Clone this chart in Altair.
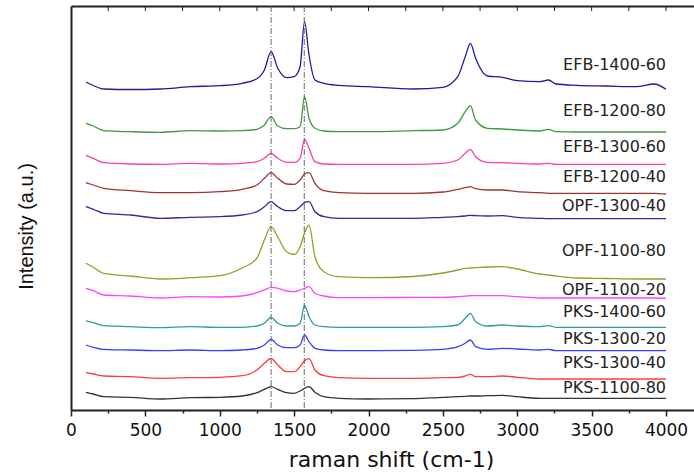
import altair as alt
import pandas as pd

shift = [100, 150, 220, 400, 600, 800, 1000, 1150, 1250, 1300, 1345, 1390, 1450,
         1500, 1540, 1570, 1600, 1640, 1700, 1800, 2000, 2300, 2500, 2600, 2650,
         2685, 2720, 2800, 2900, 3000, 3150, 3210, 3260, 3400, 3600, 3800, 3920, 4000]

# Offset-stacked intensities (a.u.), one list per sample
efb_1400_60 = [328, 324.5, 321, 320.5, 321, 323.3, 324.3, 326.7, 331.3, 340, 358.3, 341.7, 332.3,
               333.3, 343.3, 388.3, 355, 330, 326.7, 324.7, 323.3, 321, 322.7, 333.3, 353.3,
               366.7, 351.7, 334, 332.7, 329.3, 328.3, 330, 326, 324.7, 324, 323.3, 326, 320.7]
efb_1200_80 = [286.7, 284, 279.3, 278.3, 277.7, 279.3, 279, 279.3, 280.7, 285, 293.3, 284, 281.3,
               281.3, 283.3, 313.3, 291.7, 281.7, 279, 278.3, 278.3, 279.3, 280, 286.7, 298.3,
               304.3, 290, 281.7, 281, 280, 279, 280.7, 278.3, 278, 278, 278, 278, 278]
efb_1300_60 = [254.7, 251.7, 247.3, 246, 245.7, 246.7, 246, 246.7, 248.3, 251.7, 256.7, 251.7, 247.7,
               247.7, 251.7, 270.7, 261.7, 248.3, 246, 245.7, 245.7, 245.7, 246.7, 250, 256.7,
               260.7, 253.3, 247.7, 247.3, 246.7, 246, 246.7, 245.7, 245.7, 245.7, 245.7, 245.7, 245.7]
efb_1200_40 = [227.3, 225, 221.7, 219.3, 217.3, 217.3, 218.3, 220.7, 225, 231.7, 237.3, 231.7, 226,
               225.7, 230, 236, 237.3, 226.7, 219.3, 217.3, 216.7, 216.7, 218, 220.7, 222.3,
               223.3, 221.3, 220, 220, 218.3, 217.3, 216.7, 216.7, 216.7, 216.7, 216.7, 216.7, 216]
opf_1300_40 = [203.3, 200.7, 196.7, 195, 191.7, 192.7, 193.3, 195, 198.3, 203.3, 208.3, 203.3, 199.3,
               199.3, 203.3, 207.3, 208.3, 198.3, 193.3, 191.7, 191.7, 191.7, 192.7, 193.3, 194,
               194.7, 194.3, 194, 194.3, 192.7, 191.7, 191.3, 191.3, 191.3, 191.3, 191.3, 191.3, 191.3]
opf_1100_80 = [146.7, 142.7, 136.7, 134, 131, 132.3, 134.3, 142, 152, 170, 183.3, 173, 158,
               155.5, 163.3, 177, 185, 153.3, 138.3, 133.3, 132.3, 133.5, 137, 140, 141.7,
               142, 142.3, 143, 143.3, 141, 136, 135, 134, 132, 131.5, 131, 131, 131]
opf_1100_20 = [121.7, 119.3, 115, 114, 112, 113.3, 113, 114, 117.3, 120, 122.7, 121.7, 119,
               118.3, 120, 121.7, 123.3, 116.7, 114, 112.3, 112.3, 112.7, 112.7, 113.3, 113.8,
               114.3, 114.3, 114.3, 114.3, 113.3, 112, 112, 112, 112, 112, 112, 112, 111.7]
pks_1400_60 = [89.3, 87.3, 84.3, 83.3, 82.3, 83.3, 82.7, 82.7, 84, 86.7, 92.7, 86.7, 84,
               84, 86.7, 104.7, 93.3, 85, 83.3, 82.7, 82.7, 82.7, 83.3, 85, 91.7,
               96.7, 88.3, 84, 85, 84, 83.3, 84.3, 82.7, 82.7, 82.7, 82.7, 82.7, 82.7]
pks_1300_20 = [65, 62.7, 60.7, 60, 59.3, 60, 59.3, 60, 61.7, 65, 70.7, 65, 62.3,
               62.3, 65, 75, 68.3, 61.7, 60, 59.3, 59.3, 59.7, 60.7, 63.3, 66.7,
               70, 63.3, 60.7, 61.7, 61, 60, 60.7, 59.3, 59.3, 59.3, 59.3, 59.3, 59.3]
pks_1300_40 = [37.3, 36, 34, 33.3, 31.7, 32.3, 32.7, 34.3, 40, 46.7, 51.7, 45, 38.3,
               38.3, 43.3, 49.3, 51.3, 40, 34.3, 32.3, 31.7, 31.7, 32.3, 32.7, 34,
               35.7, 33.3, 33.3, 34, 32.7, 31, 31, 31, 31, 31, 31, 31, 31]
pks_1100_80 = [17.7, 16, 13.3, 12.7, 11, 12.3, 12.7, 14, 17.3, 20.7, 23.3, 20.7, 17.3,
               16.7, 19, 21.7, 23.3, 17.7, 13.3, 11.7, 11, 11.3, 12.7, 13.3, 13.7,
               14, 14, 14.3, 14.7, 13.3, 11.7, 11.7, 11.7, 11.7, 11.7, 11.7, 11.7, 11.7]

names = ["EFB-1400-60", "EFB-1200-80", "EFB-1300-60", "EFB-1200-40", "OPF-1300-40",
         "OPF-1100-80", "OPF-1100-20", "PKS-1400-60", "PKS-1300-20", "PKS-1300-40", "PKS-1100-80"]
series = [efb_1400_60, efb_1200_80, efb_1300_60, efb_1200_40, opf_1300_40,
          opf_1100_80, opf_1100_20, pks_1400_60, pks_1300_20, pks_1300_40, pks_1100_80]
colors = ["#1c1c9c", "#3c9c3c", "#ff3fa0", "#9c3434", "#2c2c9c",
          "#9c9c28", "#ff44ff", "#309c9c", "#3c3cff", "#ff3c3c", "#333333"]
label_y = [344.7, 299, 263.3, 233.3, 203.7, 159.5, 120.5, 97.7, 70.8, 46.7, 22]

peak_lines = [1345, 1568]
tick_values = list(range(0, 4001, 250))

rows = []
for name, ys in zip(names, series):
    for x, y in zip(shift, ys):
        rows.append({"sample": name, "shift": x, "intensity": y})
df = pd.DataFrame(rows)
labels_df = pd.DataFrame({"sample": names, "ly": label_y})
vlines_df = pd.DataFrame({"v": peak_lines})
ticks_df = pd.DataFrame({"t": tick_values[1:]})

xscale = alt.Scale(domain=[0, 4188], nice=False, zero=False)
yscale = alt.Scale(domain=[0, 404], nice=False, zero=False)
cscale = alt.Scale(domain=names, range=colors)

lines = alt.Chart(df).mark_line(strokeWidth=1.3, interpolate="monotone").encode(
    x=alt.X("shift:Q", scale=xscale, axis=alt.Axis(
        values=tick_values, format="d",
        labelExpr="datum.value % 500 === 0 ? datum.label : ''",
        tickSize={"condition": {"test": "datum.value % 500 === 0", "value": 6}, "value": 3},
        tickColor="#222", tickWidth=1.5, domainColor="#222", domainWidth=2,
        labelFont="DejaVu Sans", labelFontSize=17, labelColor="#111",
        labelBaseline="alphabetic", labelPadding=19, labelFlush=False, labelOverlap=False,
        grid=False, title="raman shift (cm-1)", titleFont="DejaVu Sans", titleFontSize=22,
        titleFontWeight="normal", titleColor="#111", titleX=320, titleY=56,
        titleBaseline="alphabetic", titleAlign="center")),
    y=alt.Y("intensity:Q", scale=yscale, axis=alt.Axis(
        labels=False, ticks=False, grid=False, domainColor="#222", domainWidth=2,
        title="Intensity (a.u.)", titleFont="Liberation Sans", titleFontSize=20,
        titleFontWeight="normal", titleColor="#111", titleAngle=270,
        titleX=-45, titleY=220, titleAlign="center", titleBaseline="middle")),
    color=alt.Color("sample:N", scale=cscale, legend=None),
    detail="sample:N",
)

vlines = alt.Chart(vlines_df).mark_rule(color="#555", strokeWidth=0.9, strokeDash=[6, 2, 1, 2]).encode(
    x=alt.X("v:Q", scale=xscale, axis=alt.Axis(
        orient="top", labels=False, ticks=False, title=None, grid=False,
        domainColor="#222", domainWidth=2)),
)

top_ticks = alt.Chart(ticks_df).mark_rule(color="#222", strokeWidth=1).encode(
    x=alt.X("t:Q", scale=xscale, axis=None),
    y=alt.value(0), y2=alt.value(5),
)

texts = alt.Chart(labels_df).mark_text(
    align="right", baseline="middle", font="DejaVu Sans", fontSize=16, color="#222"
).encode(
    x=alt.datum(4000, type="quantitative", scale=xscale, axis=None),
    y=alt.Y("ly:Q", scale=yscale, axis=None),
    text="sample:N",
)

chart = alt.layer(lines, vlines, top_ticks, texts).resolve_axis(
    x="independent", y="independent"
).properties(
    width=623, height=404,
    autosize=alt.AutoSizeParams(type="none"),
    padding={"left": 71, "top": 6, "right": 0, "bottom": 60},
).configure_view(stroke=None)

chart.save("out.html", embed_options={"renderer": "svg", "actions": False})
